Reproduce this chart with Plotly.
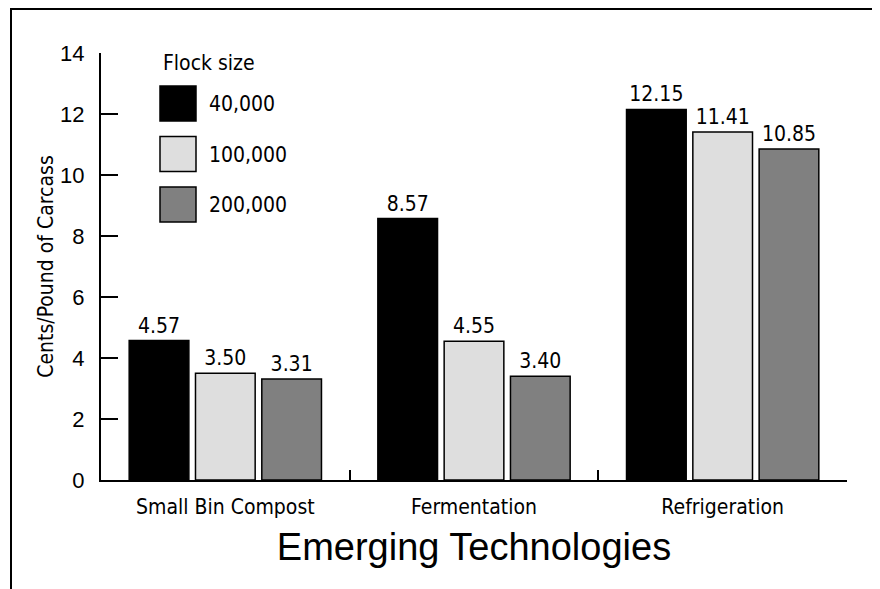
import plotly.graph_objects as go

categories = ["Small Bin Compost", "Fermentation", "Refrigeration"]
series_names = ["40,000", "100,000", "200,000"]
values_40k = [4.57, 8.57, 12.15]
values_100k = [3.50, 4.55, 11.41]
values_200k = [3.31, 3.40, 10.85]
series_values = [values_40k, values_100k, values_200k]
colors = ["#000000", "#dedede", "#808080"]
y_ticks = [0, 2, 4, 6, 8, 10, 12, 14]

W, H = 880, 589
OFF = 8  # page body margin
# plot area in screen pixels
X0, X1, Y0, Y1 = 101, 847, 53, 480
ML, MT = X0 - OFF, Y0 - OFF
MR = W - (X1 - OFF)
MB = H - (Y1 - OFF)
PW, PH = X1 - X0, Y1 - Y0

def px(x):
    return (x - X0) / PW

def py(y):
    return (Y1 - y) / PH

NARROW = "DejaVu Sans Condensed, Liberation Sans Narrow, Arial Narrow, sans-serif"
ARIAL = "Liberation Sans, Arial, Helvetica, sans-serif"

fig = go.Figure()
for name, vals, col in zip(series_names, series_values, colors):
    fig.add_trace(go.Bar(
        x=categories, y=vals, name=name,
        marker=dict(color=col, line=dict(color="#000000", width=1.5)),
        text=[f"{v:.2f}" for v in vals], textposition="outside",
        textfont=dict(family=NARROW, size=21, color="#000000"),
        constraintext="none", cliponaxis=False, showlegend=False,
    ))

shapes = [
    dict(type="line", xref="paper", yref="paper", x0=px(11), y0=py(600), x1=px(11), y1=py(9),
         line=dict(color="#000000", width=2)),
    dict(type="line", xref="paper", yref="paper", x0=px(10), y0=py(9), x1=px(890), y1=py(9),
         line=dict(color="#000000", width=2)),
]
annotations = [
    dict(text="Flock size", xref="paper", yref="paper", x=px(161), y=py(63), xanchor="left",
         yanchor="middle", showarrow=False, font=dict(family=NARROW, size=21, color="#000000")),
]
for i, (name, col) in enumerate(zip(series_names, colors)):
    top = 86 + i * 50.5
    shapes.append(dict(type="rect", xref="paper", yref="paper", x0=px(160), x1=px(196),
                       y0=py(top + 35), y1=py(top), fillcolor=col,
                       line=dict(color="#000000", width=1.5)))
    annotations.append(dict(text=name, xref="paper", yref="paper", x=px(207), y=py(top + 18),
                            xanchor="left", yanchor="middle", showarrow=False,
                            font=dict(family=NARROW, size=21, color="#000000")))

fig.update_layout(
    width=W, height=H,
    margin=dict(l=ML, r=MR, t=MT, b=MB, pad=0),
    paper_bgcolor="#ffffff", plot_bgcolor="#ffffff",
    barmode="group", bargap=0.2, bargroupgap=0.1,
    shapes=shapes, annotations=annotations,
    showlegend=False,
)
fig.update_xaxes(
    showline=True, linecolor="#000000", linewidth=2,
    ticks="inside", tickson="boundaries", ticklen=10, tickwidth=2, tickcolor="#000000",
    tickfont=dict(family=NARROW, size=21, color="#000000"), ticklabelstandoff=7,
    showgrid=False, zeroline=False,
    title=dict(text="Emerging Technologies", font=dict(family=ARIAL, size=38, color="#000000"), standoff=15),
)
fig.update_yaxes(
    range=[0, 14], tickvals=y_ticks, ticktext=[str(t) for t in y_ticks],
    showline=True, linecolor="#000000", linewidth=2,
    ticks="inside", ticklen=17, tickwidth=2, tickcolor="#000000",
    tickfont=dict(family=ARIAL, size=22, color="#000000"), ticklabelstandoff=10,
    showgrid=False, zeroline=False,
    title=dict(text="Cents/Pound of Carcass", font=dict(family=NARROW, size=21, color="#000000"), standoff=1),
)

fig.write_html("out.html")
